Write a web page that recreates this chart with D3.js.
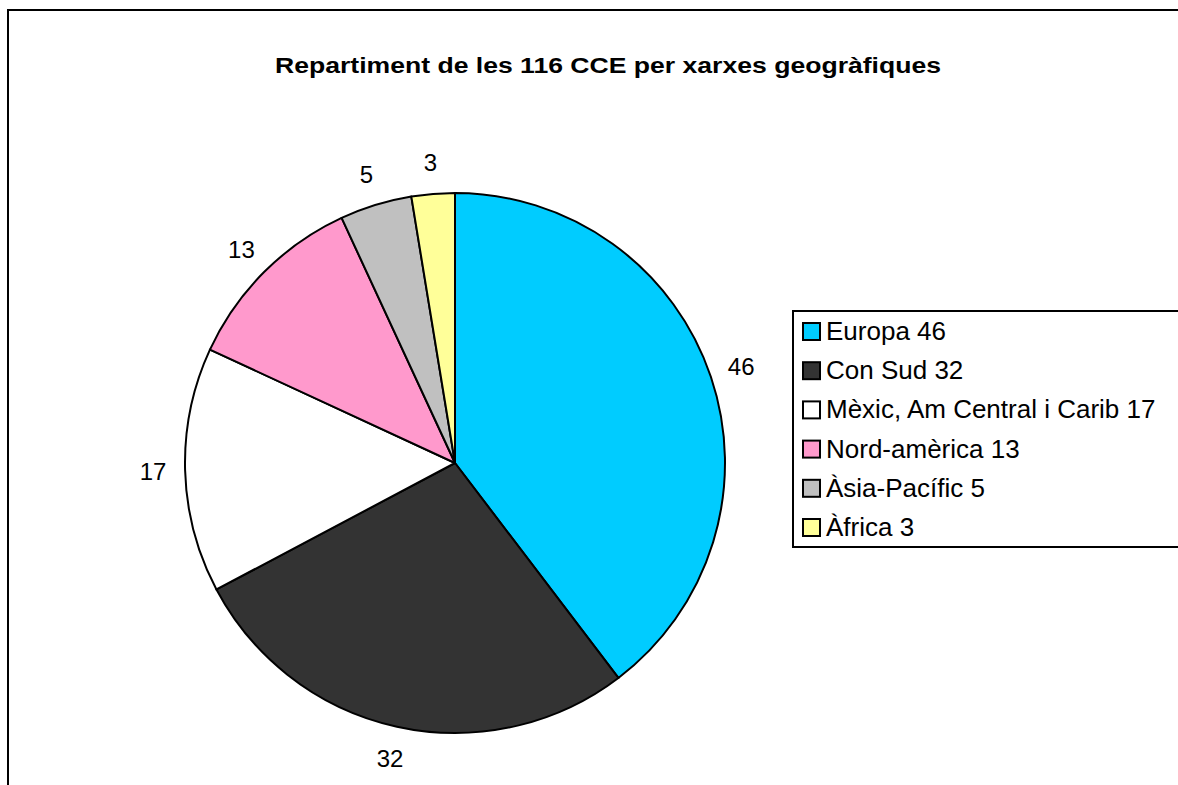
<!DOCTYPE html>
<html>
<head>
<meta charset="utf-8">
<script src="https://cdn.jsdelivr.net/npm/d3@7"></script>
<style>
  body { margin: 0; background: #fff; }
  text { font-family: "Liberation Sans", Arial, sans-serif; }
</style>
</head>
<body>
<svg id="chart" width="1178" height="785"></svg>
<script>
const categories = ["Europa", "Con Sud", "Mèxic, Am Central i Carib", "Nord-amèrica", "Àsia-Pacífic", "Àfrica"];
const values = [46, 32, 17, 13, 5, 3];
const colors = ["#00CCFF", "#333333", "#FFFFFF", "#FF99CC", "#C0C0C0", "#FFFF99"];
const title = "Repartiment de les 116 CCE per xarxes geogràfiques";

const svg = d3.select("svg#chart");
const width = +svg.attr("width");
const height = +svg.attr("height");

// outer frame (runs off the right and bottom edge)
svg.append("rect")
  .attr("x", 8).attr("y", 10)
  .attr("width", width + 20).attr("height", height + 20)
  .attr("fill", "white")
  .attr("stroke", "black")
  .attr("stroke-width", 2);

svg.append("text")
  .attr("x", 275)
  .attr("y", 73)
  .attr("textLength", 666)
  .attr("lengthAdjust", "spacingAndGlyphs")
  .style("font-size", "22.5px")
  .style("font-weight", "bold")
  .text(title);

const data = categories.map((c, i) => ({ name: c, value: values[i], color: colors[i] }));

const cx = 455, cy = 463, radius = 270;
const pie = d3.pie().value(d => d.value).sort(null);
const arc = d3.arc().innerRadius(0).outerRadius(radius);
const labelArc = d3.arc().innerRadius(302).outerRadius(302);

const g = svg.append("g").attr("transform", `translate(${cx},${cy})`);
const arcs = pie(data);

g.selectAll("path")
  .data(arcs)
  .join("path")
  .attr("d", arc)
  .attr("fill", d => d.data.color)
  .attr("stroke", "black")
  .attr("stroke-width", 2)
  .attr("stroke-linejoin", "round");

g.selectAll("text.lbl")
  .data(arcs)
  .join("text")
  .attr("class", "lbl")
  .attr("transform", d => `translate(${labelArc.centroid(d)})`)
  .attr("text-anchor", "middle")
  .attr("dy", "0.36em")
  .style("font-size", "24px")
  .text(d => d.data.value);

// legend
const legend = svg.append("g").attr("transform", "translate(793,311)");
legend.append("rect")
  .attr("x", 0).attr("y", 0)
  .attr("width", 420).attr("height", 236)
  .attr("fill", "white")
  .attr("stroke", "black")
  .attr("stroke-width", 2);

const rowY = d3.scaleLinear().domain([0, data.length - 1]).range([29, 225]);

const rows = legend.selectAll("g.row")
  .data(data)
  .join("g")
  .attr("class", "row")
  .attr("transform", (d, i) => `translate(0,${rowY(i)})`);

rows.append("rect")
  .attr("x", 10).attr("y", -17)
  .attr("width", 17).attr("height", 17)
  .attr("fill", d => d.color)
  .attr("stroke", "black")
  .attr("stroke-width", 2);

rows.append("text")
  .attr("x", 33)
  .attr("y", 0)
  .style("font-size", "26px")
  .text(d => `${d.name} ${d.value}`);
</script>
</body>
</html>
